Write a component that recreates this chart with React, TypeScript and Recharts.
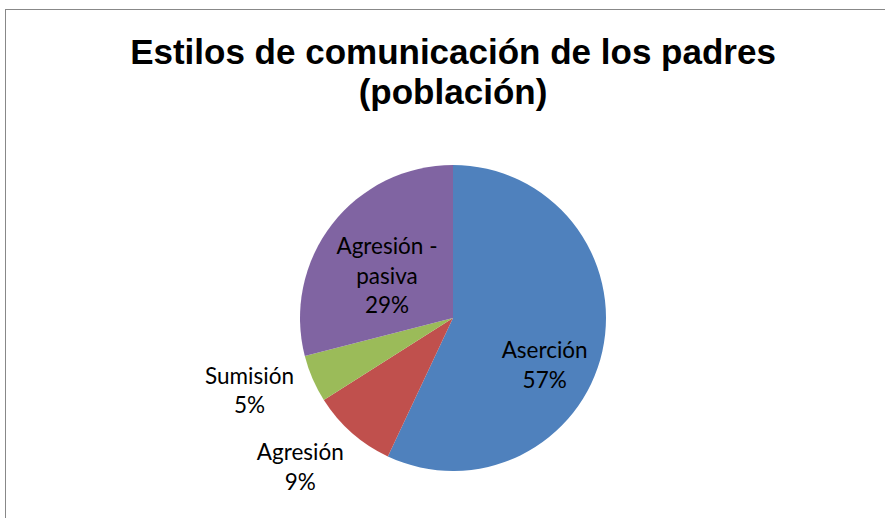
import { PieChart, Pie, Cell } from "recharts";

// chart values
const categories = ["Aserción", "Agresión", "Sumisión", "Agresión - pasiva"];
const values = [57, 9, 5, 29];
const percentLabels = ["57%", "9%", "5%", "29%"];
const colors = ["#4F81BD", "#C0504D", "#9BBB59", "#8064A2"];

const data = categories.map((name, i) => ({ name, value: values[i] }));

// label placement: radius factor and angle tweak (degrees) per slice
const labelPlacement = [
  { k: 0.67, da: -14 },
  { k: 1.39, da: -4.5 },
  { k: 1.41, da: -4 },
  { k: 0.515, da: 4.7 },
];

const RAD = Math.PI / 180;

function renderLabel(props: any) {
  const { cx, cy, midAngle, outerRadius, index } = props;
  const p = labelPlacement[index];
  const a = (midAngle + p.da) * RAD;
  const r = outerRadius * p.k;
  const x = cx + r * Math.cos(a);
  const y = cy - r * Math.sin(a);
  const lines =
    index === 3 ? ["Agresión -", "pasiva", percentLabels[index]] : [categories[index], percentLabels[index]];
  const lh = 29.5;
  const top = y - ((lines.length - 1) * lh) / 2;
  return (
    <text
      x={x}
      y={top}
      textAnchor="middle"
      dominantBaseline="central"
      fill="#000"
      fontFamily="Lato, 'Open Sans', sans-serif"
      fontSize={22.5}
    >
      {lines.map((l, i) => (
        <tspan key={i} x={x} y={top + i * lh} dominantBaseline="central">
          {l}
        </tspan>
      ))}
    </text>
  );
}

export default function App() {
  return (
    <div style={{ position: "absolute", left: 0, top: 0, width: 885, height: 518, background: "#fff", overflow: "hidden" }}>
      <div
        style={{
          position: "absolute",
          left: 5,
          top: 9,
          width: 900,
          height: 540,
          border: "1px solid #888",
          boxSizing: "border-box",
        }}
      />
      <div
        style={{
          position: "absolute",
          left: 0,
          top: 32,
          width: 906,
          textAlign: "center",
          fontFamily: "'Liberation Sans', Arial, sans-serif",
          fontWeight: "bold",
          fontSize: 35,
          lineHeight: "40px",
          color: "#000",
        }}
      >
        Estilos de comunicación de los padres
        <br />
        (población)
      </div>
      <div style={{ position: "absolute", left: 0, top: 0 }}>
        <PieChart width={885} height={518}>
          <Pie
            data={data}
            dataKey="value"
            nameKey="name"
            cx={448}
            cy={313}
            outerRadius={153}
            startAngle={90}
            endAngle={-270}
            stroke="none"
            label={renderLabel}
            labelLine={false}
            isAnimationActive={false}
          >
            {data.map((d, i) => (
              <Cell key={d.name} fill={colors[i]} />
            ))}
          </Pie>
        </PieChart>
      </div>
    </div>
  );
}
